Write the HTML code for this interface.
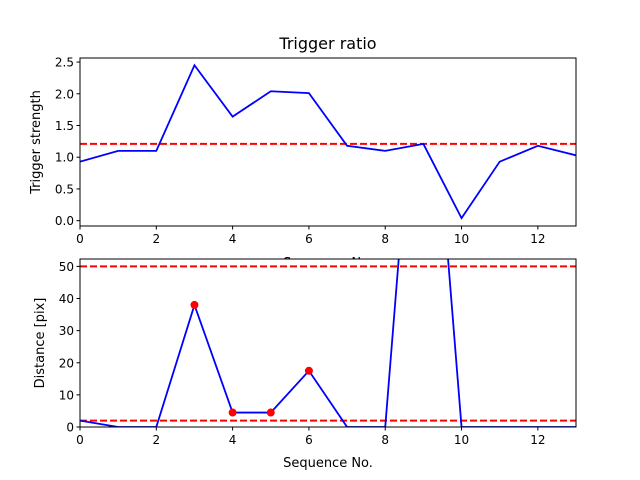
<!DOCTYPE html>
<html><head><meta charset="utf-8"><style>
html,body{margin:0;padding:0;background:#fff;width:640px;height:480px;overflow:hidden}
svg text{font-family:"DejaVu Sans","Liberation Sans",sans-serif;fill:#000}
</style></head><body>
<svg id="c" width="640" height="480" viewBox="0 0 640 480" xmlns="http://www.w3.org/2000/svg"></svg>
<script>
const seq = [0,1,2,3,4,5,6,7,8,9,10,11,12,13];
const strength = [0.93,1.1,1.1,2.45,1.64,2.04,2.01,1.18,1.1,1.21,0.04,0.93,1.18,1.03];
const strengthThreshold = 1.21;
const distance = [2,0,0,38,4.5,4.5,17.5,0,0,148,0,0,0,0];
const flaggedIdx = [3,4,5,6];
const distThresholds = [50,2];
const xTicks = [0,2,4,6,8,10,12];
const yTicksTop = [0,0.5,1,1.5,2,2.5];
const yTicksBot = [0,10,20,30,40,50];

const NS="http://www.w3.org/2000/svg";
const svg=document.getElementById('c');
function mk(tag,attrs,parent,txt){const e=document.createElementNS(NS,tag);for(const k in attrs)e.setAttribute(k,attrs[k]);if(txt!==undefined)e.textContent=txt;(parent||svg).appendChild(e);return e;}

const L=80,R=576;
const xs=v=>L+(v-0)/(13-0)*(R-L);

function panel(name,top,bot,ymin,ymax,yt,fmt,ylabel,drawFn){
  const g=mk('g',{},svg);
  
  
  const ys=v=>bot-(v-ymin)/(ymax-ymin)*(bot-top);
  const bg=mk('rect',{x:L,y:top,width:R-L,height:bot-top,fill:'#fff'},g);
  
  
  const clipId=name+'-clip';
  const cp=mk('clipPath',{id:clipId},g);
  mk('rect',{x:L,y:top,width:R-L,height:bot-top},cp);
  const plot=mk('g',{'clip-path':'url(#'+clipId+')'},g);
  drawFn(plot,ys);
  const frame=mk('rect',{x:L,y:top,width:R-L,height:bot-top,fill:'none',stroke:'#000','stroke-width':1},g);
  
  
  xTicks.forEach(t=>{
    const x=xs(t);
    mk('line',{x1:x,x2:x,y1:bot,y2:bot+3.5,stroke:'#000'},g);
    const tx=mk('text',{x:x,y:bot+17,'text-anchor':'middle','font-size':12},g,String(t));
    
    
  });
  yt.forEach(t=>{
    const y=ys(t);
    mk('line',{x1:L-3.5,x2:L,y1:y,y2:y,stroke:'#000'},g);
    const tx=mk('text',{x:L-6,y:y+4.5,'text-anchor':'end','font-size':12},g,fmt(t));
    
    
  });
  const yl=mk('text',{x:0,y:0,'text-anchor':'middle','font-size':13,transform:`translate(${name==='top-panel'?40:44},${(top+bot)/2}) rotate(-90)`},g,ylabel);
  
  
  return g;
}

// top x label (drawn first so bottom panel covers it)
const xl1=mk('text',{x:328,y:267,'text-anchor':'middle','font-size':13},svg,'Sequence No.');



const title=mk('text',{x:328,y:49,'text-anchor':'middle','font-size':16},svg,'Trigger ratio');



panel('top-panel',58,226,-0.084,2.564,yTicksTop,t=>t.toFixed(1),'Trigger strength',(g,ys)=>{
  const th=mk('line',{x1:L,x2:R,y1:ys(strengthThreshold),y2:ys(strengthThreshold),stroke:'#f00','stroke-width':2,'stroke-dasharray':'7,3'},g);
  
  
  const p=mk('polyline',{points:seq.map((s,i)=>xs(s)+','+ys(strength[i])).join(' '),fill:'none',stroke:'#00f','stroke-width':1.8},g);
  
  
});

panel('bottom-panel',259,427,0,52.3,yTicksBot,t=>String(t),'Distance [pix]',(g,ys)=>{
  distThresholds.forEach(v=>{
    const th=mk('line',{x1:L,x2:R,y1:ys(v),y2:ys(v),stroke:'#f00','stroke-width':2,'stroke-dasharray':'7,3'},g);
    
    
  });
  const p=mk('polyline',{points:seq.map((s,i)=>xs(s)+','+ys(distance[i])).join(' '),fill:'none',stroke:'#00f','stroke-width':1.8},g);
  
  
  flaggedIdx.forEach(i=>{
    const c=mk('circle',{cx:xs(seq[i]),cy:ys(distance[i]),r:4,fill:'#f00'},g);
    
    
  });
});

const xl2=mk('text',{x:328,y:467,'text-anchor':'middle','font-size':13},svg,'Sequence No.');


</script>
</body></html>
